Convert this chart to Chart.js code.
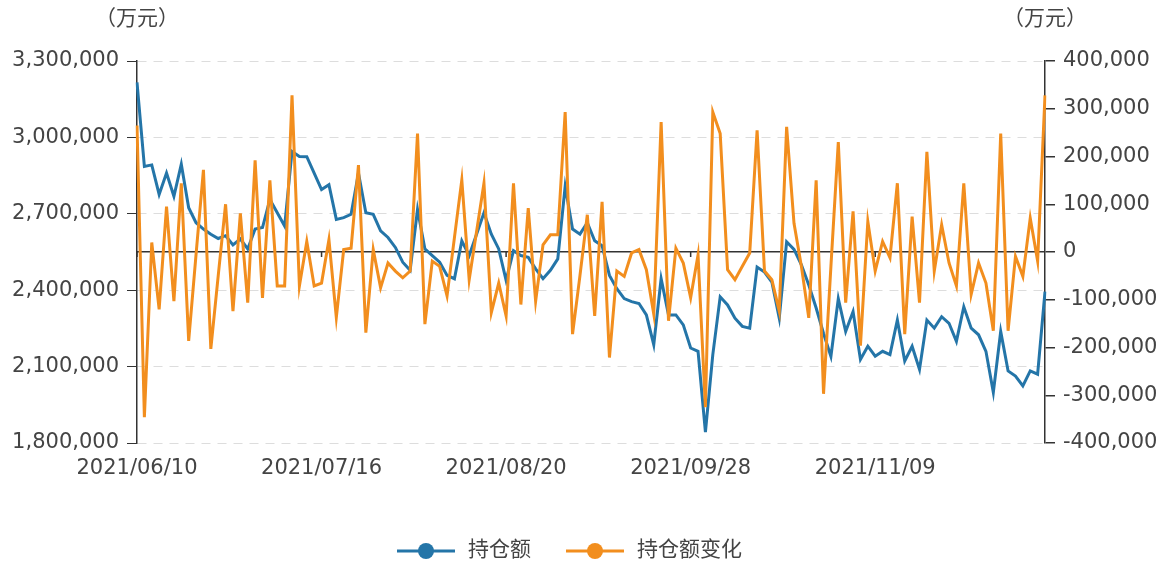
<!DOCTYPE html>
<html>
<head>
<meta charset="utf-8">
<script src="https://cdn.jsdelivr.net/npm/chart.js@4/dist/chart.umd.min.js"></script>
<style>
    html, body { margin: 0; padding: 0; background: #ffffff; }
    #grafico { display: block; }
</style>
</head>
<body>
<canvas id="grafico" width="1169" height="566"></canvas>
<script>
const datas = [
    '2021/06/10', '2021/06/11', '2021/06/15', '2021/06/16', '2021/06/17', '2021/06/18',
    '2021/06/21', '2021/06/22', '2021/06/23', '2021/06/24', '2021/06/25',
    '2021/06/28', '2021/06/29', '2021/06/30', '2021/07/01', '2021/07/02',
    '2021/07/05', '2021/07/06', '2021/07/07', '2021/07/08', '2021/07/09',
    '2021/07/12', '2021/07/13', '2021/07/14', '2021/07/15', '2021/07/16',
    '2021/07/19', '2021/07/20', '2021/07/21', '2021/07/22', '2021/07/23',
    '2021/07/26', '2021/07/27', '2021/07/28', '2021/07/29', '2021/07/30',
    '2021/08/02', '2021/08/03', '2021/08/04', '2021/08/05', '2021/08/06',
    '2021/08/09', '2021/08/10', '2021/08/11', '2021/08/12', '2021/08/13',
    '2021/08/16', '2021/08/17', '2021/08/18', '2021/08/19', '2021/08/20',
    '2021/08/23', '2021/08/24', '2021/08/25', '2021/08/26', '2021/08/27',
    '2021/08/30', '2021/08/31', '2021/09/01', '2021/09/02', '2021/09/03',
    '2021/09/06', '2021/09/07', '2021/09/08', '2021/09/09', '2021/09/10',
    '2021/09/13', '2021/09/14', '2021/09/15', '2021/09/16', '2021/09/17',
    '2021/09/22', '2021/09/23', '2021/09/24', '2021/09/27', '2021/09/28',
    '2021/09/29', '2021/09/30', '2021/10/08', '2021/10/11', '2021/10/12',
    '2021/10/13', '2021/10/14', '2021/10/15', '2021/10/18', '2021/10/19',
    '2021/10/20', '2021/10/21', '2021/10/22', '2021/10/25', '2021/10/26',
    '2021/10/27', '2021/10/28', '2021/10/29', '2021/11/01', '2021/11/02',
    '2021/11/03', '2021/11/04', '2021/11/05', '2021/11/08', '2021/11/09',
    '2021/11/10', '2021/11/11', '2021/11/12', '2021/11/15', '2021/11/16',
    '2021/11/17', '2021/11/18', '2021/11/19', '2021/11/22', '2021/11/23',
    '2021/11/24', '2021/11/25', '2021/11/26', '2021/11/29', '2021/11/30',
    '2021/12/01', '2021/12/02', '2021/12/03', '2021/12/06', '2021/12/07',
    '2021/12/08', '2021/12/09', '2021/12/10'
];

// 持仓额 (万元), eixo esquerdo
const holding = [
    3216000, 2886000, 2892000, 2776000, 2860000, 2769000, 2895000, 2724000, 2665000, 2640000,
    2620000, 2603000, 2614000, 2578000, 2601000, 2562000, 2640000, 2646000, 2756000, 2704000,
    2652000, 2945000, 2925000, 2924000, 2860000, 2795000, 2814000, 2678000, 2685000, 2698000,
    2860000, 2704000, 2698000, 2633000, 2607000, 2568000, 2510000, 2478000, 2717000, 2562000,
    2536000, 2510000, 2458000, 2445000, 2594000, 2536000, 2620000, 2704000, 2620000, 2562000,
    2439000, 2555000, 2536000, 2529000, 2484000, 2445000, 2478000, 2523000, 2808000, 2640000,
    2620000, 2665000, 2594000, 2575000, 2458000, 2406000, 2367000, 2355000, 2348000, 2303000,
    2186000, 2445000, 2303000, 2303000, 2264000, 2173000, 2160000, 1843000, 2147000, 2374000,
    2342000, 2290000, 2258000, 2251000, 2491000, 2471000, 2432000, 2290000, 2590000, 2560000,
    2500000, 2420000, 2330000, 2230000, 2140000, 2367000, 2238000, 2316000, 2128000, 2180000,
    2141000, 2160000, 2147000, 2283000, 2122000, 2180000, 2089000, 2283000, 2251000, 2296000,
    2270000, 2199000, 2335000, 2251000, 2225000, 2160000, 1999000, 2238000, 2083000, 2063000,
    2024000, 2083000, 2070000, 2394000
];

// 持仓额变化 (万元), eixo direito
const variacao = [
    265000, -346000, 20000, -120000, 95000, -103000, 144000, -186000, -5000, 172000,
    -203000, -50000, 100000, -124000, 81000, -106000, 192000, -96000, 150000, -71000,
    -71000, 328000, -71000, 22000, -71000, -65000, 26000, -137000, 5000, 8000,
    182000, -169000, 5000, -75000, -23000, -40000, -54000, -40000, 248000, -151000,
    -19000, -30000, -92000, 30000, 151000, -58000, 43000, 144000, -127000, -65000,
    -134000, 144000, -110000, 92000, -103000, 15000, 36000, 36000, 293000, -172000,
    -50000, 78000, -134000, 105000, -221000, -40000, -51000, -2000, 5000, -37000,
    -130000, 272000, -144000, 8000, -23000, -96000, -6000, -325000, 293000, 248000,
    -37000, -58000, -30000, -2000, 255000, -40000, -58000, -124000, 262000, 60000,
    -30000, -138000, 150000, -297000, -30000, 230000, -106000, 85000, -196000, 64000,
    -40000, 22000, -12000, 144000, -172000, 74000, -106000, 210000, -40000, 57000,
    -23000, -71000, 144000, -89000, -23000, -65000, -165000, 248000, -165000, -9000,
    -51000, 71000, -19000, 328000
];

const unidade = '（万元）';
const corAzul = '#2475a8';
const corLaranja = '#f28e1e';
const fonte = '21px "DejaVu Sans", "Noto Sans CJK SC", sans-serif';

Chart.defaults.font.family = '"DejaVu Sans", "Noto Sans CJK SC", sans-serif';
Chart.defaults.font.size = 21;
Chart.defaults.color = '#444444';

// unidades no topo dos eixos, traços do eixo x na linha do zero e legenda
const extras = {
    id: 'extras',
    beforeDatasetsDraw(chart) {
        const { ctx } = chart;
        const x = chart.scales.x;
        const y0 = chart.scales.y1.getPixelForValue(0);
        ctx.save();
        ctx.strokeStyle = '#333333';
        ctx.lineWidth = 1.5;
        datas.forEach((d, i) => {
            if (i % 25 !== 0) return;
            const px = x.getPixelForValue(i);
            ctx.beginPath();
            ctx.moveTo(px, y0);
            ctx.lineTo(px, y0 + 5);
            ctx.stroke();
        });
        ctx.restore();
    },
    afterDraw(chart) {
        const { ctx, chartArea } = chart;
        ctx.save();
        ctx.font = fonte;
        ctx.fillStyle = '#444444';
        ctx.textAlign = 'center';
        ctx.textBaseline = 'middle';
        ctx.fillText(unidade, chartArea.left, 20);
        ctx.fillText(unidade, chartArea.right, 20);

        // legenda
        const series = chart.data.datasets;
        let lx = 397;
        const ly = 551;
        ctx.textAlign = 'left';
        series.forEach((ds) => {
            ctx.strokeStyle = ds.borderColor;
            ctx.fillStyle = ds.borderColor;
            ctx.lineWidth = 3;
            ctx.beginPath();
            ctx.moveTo(lx, ly);
            ctx.lineTo(lx + 58, ly);
            ctx.stroke();
            ctx.beginPath();
            ctx.arc(lx + 29, ly, 8, 0, Math.PI * 2);
            ctx.fill();
            ctx.fillStyle = '#444444';
            ctx.fillText(ds.label, lx + 71, ly);
            lx += 71 + ctx.measureText(ds.label).width + 35;
        });
        ctx.restore();
    }
};

const formatar = (v) => Number(v).toLocaleString('en-US');

let config = {
    type: 'line',
    data: {
        labels: datas,
        datasets: [
            {
                label: '持仓额',
                data: holding,
                yAxisID: 'y',
                borderColor: corAzul,
                backgroundColor: corAzul,
                borderWidth: 3,
                pointRadius: 0,
                tension: 0,
                order: 1
            },
            {
                label: '持仓额变化',
                data: variacao,
                yAxisID: 'y1',
                borderColor: corLaranja,
                backgroundColor: corLaranja,
                borderWidth: 3,
                pointRadius: 0,
                tension: 0,
                order: 0
            }
        ]
    },
    options: {
        responsive: false,
        animation: false,
        layout: {
            padding: { top: 61, left: 0, right: 0, bottom: 0 }
        },
        plugins: {
            tooltip: { enabled: false },
            legend: { display: false }
        },
        scales: {
            x: {
                grid: { display: false, drawTicks: false },
                border: { display: false },
                ticks: {
                    autoSkip: false,
                    maxRotation: 0,
                    padding: 13,
                    callback: (v, i) => (i % 25 === 0 ? datas[i] : null)
                },
                afterFit: (scale) => { scale.height = 123; }
            },
            y: {
                position: 'left',
                min: 1800000,
                max: 3300000,
                ticks: { stepSize: 300000, padding: 8, callback: formatar },
                grid: { color: '#dddddd', tickColor: '#333333', tickLength: 10, lineWidth: 1 },
                border: { display: true, color: '#333333', width: 1.5, dash: [9, 7] },
                afterFit: (scale) => { scale.width = 137; }
            },
            y1: {
                position: 'right',
                min: -400000,
                max: 400000,
                ticks: { stepSize: 100000, padding: 8, callback: formatar },
                grid: {
                    color: (ctx) => (ctx.tick && ctx.tick.value === 0 ? '#333333' : 'rgba(0,0,0,0)'),
                    tickColor: '#333333',
                    tickLength: 10,
                    lineWidth: 1.5
                },
                border: { display: true, color: '#333333', width: 1.5 },
                afterFit: (scale) => { scale.width = 124; }
            }
        }
    },
    plugins: [extras]
};

const grafico = new Chart(document.getElementById('grafico'), config);
</script>
</body>
</html>
